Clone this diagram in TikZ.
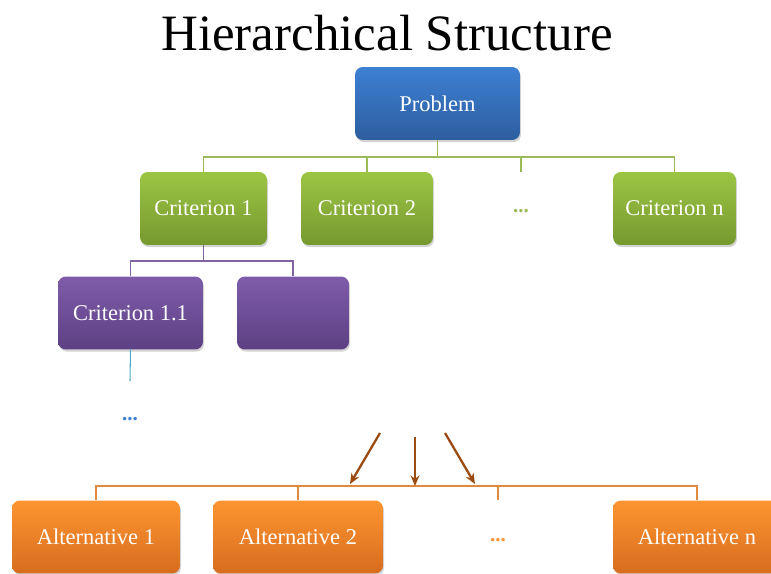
\documentclass[tikz,border=0pt]{standalone}
\usepackage{fontspec}
\setmainfont{Liberation Serif}
\usetikzlibrary{shadows,arrows.meta}

\definecolor{probtop}{HTML}{3D80D3}
\definecolor{probbot}{HTML}{2D5E9F}
\definecolor{crittop}{HTML}{9CC544}
\definecolor{critbot}{HTML}{76992F}
\definecolor{subtop}{HTML}{7F5CAA}
\definecolor{subbot}{HTML}{5D4083}
\definecolor{alttop}{HTML}{FE9530}
\definecolor{altbot}{HTML}{D76C1E}
\definecolor{critline}{HTML}{9BBB59}
\definecolor{subline}{HTML}{8064A2}
\definecolor{cyanline}{HTML}{4BACC6}
\definecolor{altline}{HTML}{E0893F}
\definecolor{arrowbrown}{HTML}{9A4B12}

\tikzset{
  box/.style={rounded corners=4.5pt, text=white, minimum height=1.46cm,
    font=\fontsize{12.8}{14}\selectfont,
    drop shadow={opacity=0.35, shadow xshift=0.6pt, shadow yshift=-1.2pt}},
  probbox/.style={box, top color=probtop, bottom color=probbot},
  critbox/.style={box, top color=crittop, bottom color=critbot},
  subbox/.style={box, top color=subtop, bottom color=subbot},
  altbox/.style={box, top color=alttop, bottom color=altbot},
  dots/.style={font=\bfseries\fontsize{12}{12}\selectfont},
  link/.style={line width=0.6pt}
}

\begin{document}
\begin{tikzpicture}[x=0.02cm,y=-0.02cm]
\clip (0,0) rectangle (771,574);

% title
\node (title) at (387,33) {\fontsize{29}{32}\selectfont Hierarchical Structure};

% goal
\node[probbox, minimum width=3.3cm] (prob) at (437.5,103.5) {Problem};

% criteria
\node[critbox, minimum width=2.54cm] (c1) at (203.5,208.5) {Criterion 1};
\node[critbox, minimum width=2.64cm] (c2) at (367,208.5) {Criterion 2};
\node[dots, text=critline] (cdots) at (521,211) {...};
\coordinate (cdotstop) at (521,172);
\node[critbox, minimum width=2.46cm] (cn) at (674.5,208.5) {Criterion n};

% sub-criteria
\node[subbox, minimum width=2.9cm] (c11) at (130.5,313) {Criterion 1.1};
\node[subbox, minimum width=2.24cm] (c12) at (293,313) {};
\coordinate (c11end) at (130,381);
\node[dots, text=probtop] (sdots) at (130,419) {...};

% alternatives
\node[altbox, minimum width=3.36cm] (a1) at (96,537) {Alternative 1};
\node[altbox, minimum width=3.4cm] (a2) at (298,537) {Alternative 2};
\node[dots, text=alttop] (adots) at (498,540) {...};
\coordinate (adotstop) at (498,500);
\node[altbox, minimum width=3.36cm] (an) at (697,537) {Alternative n};

% tree lines
\coordinate (pj) at (437.5,157);
\draw[link, critline] (prob.south) -- (pj);
\draw[link, critline] (pj) -| (c1.north);
\draw[link, critline] (pj) -| (c2.north);
\draw[link, critline] (pj) -| (cdotstop);
\draw[link, critline] (pj) -| (cn.north);

\coordinate (cj) at (203.5,261);
\draw[link, subline] (c1.south) -- (cj);
\draw[link, subline] (cj) -| (c11.north);
\draw[link, subline] (cj) -| (c12.north);

\draw[link, cyanline] (c11.south) -- (c11end);

\coordinate (aj) at (415,486);
\draw[link, altline] (aj) -| (a1.north);
\draw[link, altline] (aj) -| (a2.north);
\draw[link, altline] (aj) -| (adotstop);
\draw[link, altline] (aj) -| (an.north);

% arrows into the alternatives
\coordinate (arl) at (380,433);
\coordinate (arm) at (415,437);
\coordinate (arr) at (445,433);
\coordinate (tpl) at (350,484);
\coordinate (tpr) at (475,484);
\draw[arrowbrown, line width=1.3pt, -{Stealth[length=6pt,width=5pt]}] (arl) -- (tpl);
\draw[arrowbrown, line width=1.3pt, -{Stealth[length=6pt,width=5pt]}] (arm) -- (aj);
\draw[arrowbrown, line width=1.3pt, -{Stealth[length=6pt,width=5pt]}] (arr) -- (tpr);
\end{tikzpicture}
\end{document}
